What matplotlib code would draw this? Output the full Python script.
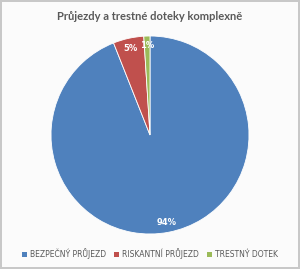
import matplotlib
matplotlib.use("Agg")
import matplotlib.pyplot as plt
from matplotlib.patches import Rectangle

categories = ["BEZPEČNÝ PRŮJEZD", "RISKANTNÍ PRŮJEZD", "TRESTNÝ DOTEK"]
values = [94, 5, 1]
colors = ["#4F81BD", "#C0504D", "#9BBB59"]
title = "Průjezdy a trestné doteky komplexně"

fig = plt.figure(figsize=(3.0, 2.69), dpi=100)
fig.patch.set_facecolor("#fbfbfb")
fig.patch.set_edgecolor("#c8c8c8")
fig.patch.set_linewidth(1.5)

ax = fig.add_axes([(150 - 99) / 300, 1 - (135 + 99) / 269, 198 / 300, 198 / 269])
wedges, texts, autotexts = ax.pie(values, colors=colors, startangle=90, counterclock=False,
                                  autopct=lambda p: f"{p:.0f}%", pctdistance=0.9,
                                  wedgeprops=dict(edgecolor="white", linewidth=0.6),
                                  textprops=dict(color="white", fontsize=6, fontweight="bold"))
ax.set_xlim(-1, 1)
ax.set_ylim(-1, 1)
ax.set_aspect("equal")

fig.text(0.5, 1 - 16 / 269, title, ha="center", va="center", fontsize=8,
         fontweight="bold", color="#595959", family="Lato")

handles = [Rectangle((0, 0), 1, 1, facecolor=c) for c in colors]
fig.legend(handles, categories, loc="center", bbox_to_anchor=(0.5, 1 - 254 / 269),
           ncol=3, frameon=False, fontsize=5.5, handlelength=0.7, handleheight=0.7,
           handletextpad=0.4, columnspacing=1.0, labelcolor="#595959")

fig.savefig("out.png", dpi=100, facecolor=fig.get_facecolor(), edgecolor=fig.get_edgecolor())
